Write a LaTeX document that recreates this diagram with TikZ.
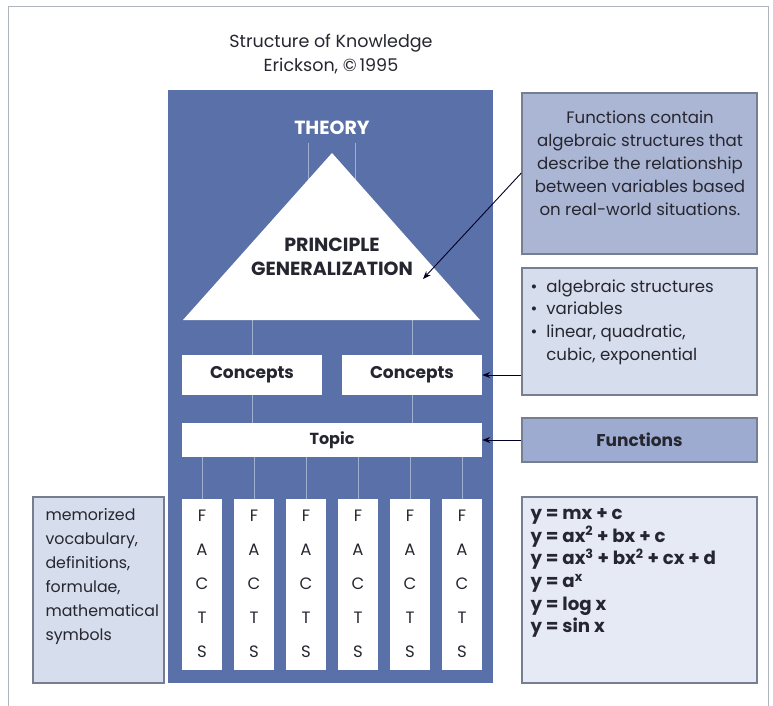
\documentclass[tikz,border=0pt]{standalone}
\usepackage{fontspec}
\setmainfont{Poppins}
\usetikzlibrary{arrows.meta}

\definecolor{panelblue}{RGB}{90,112,168}
\definecolor{panelline}{RGB}{160,174,208}
\definecolor{notedark}{RGB}{170,182,212}
\definecolor{notemid}{RGB}{156,171,207}
\definecolor{notelight}{RGB}{214,221,236}
\definecolor{notepale}{RGB}{230,234,245}
\definecolor{noteedge}{RGB}{118,126,146}
\definecolor{frameedge}{RGB}{175,180,190}
\definecolor{ink}{RGB}{38,38,48}

\tikzset{
  whitebox/.style={fill=white, draw=none, inner sep=0pt, text=ink},
  notebox/.style={draw=noteedge, line width=1.4pt, inner sep=0pt},
  thinline/.style={draw=panelline, line width=0.8pt},
  pointer/.style={draw=black!85!blue, line width=0.9pt, -{Stealth[length=8pt,width=6pt]}},
  bodytext/.style={font=\fontsize{16.6}{23}\selectfont, text=ink},
  labeltext/.style={font=\fontsize{17}{18}\selectfont\bfseries, text=ink},
}

\begin{document}
\begin{tikzpicture}[x=1pt, y=-1pt]
  \useasboundingbox (0,0) rectangle (773,705);
  % outer frame
  \draw[frameedge, line width=1pt] (8,720) |- (768,6) -- (768,720);

  % title
  \node[text=ink, align=center, font=\fontsize{17.5}{24}\selectfont] (title) at (331,54)
    {Structure of Knowledge\\Erickson, \textcopyright\,1995};

  % blue panel
  \path[fill=panelblue] (168,90) rectangle (493,683);

  % theory label and its two stems
  \node[text=white, font=\fontsize{19}{20}\selectfont\bfseries] (theory) at (332,128) {THEORY};
  \coordinate (stemL) at (308,143);
  \coordinate (stemR) at (355,143);
  \draw[thinline] (stemL) -- (308,185);
  \draw[thinline] (stemR) -- (355,185);

  % stems from the triangle down to the concepts and the topic
  \coordinate (legL) at (252,315);
  \coordinate (legR) at (412,315);
  \draw[thinline] (legL) -- (252,430);
  \draw[thinline] (legR) -- (412,430);

  % triangle
  \coordinate (apex) at (332,153);
  \coordinate (baseL) at (183,320);
  \coordinate (baseR) at (480,320);
  \fill[white] (apex) -- (baseR) -- (baseL) -- cycle;
  \node[align=center, text=ink, font=\fontsize{19}{24}\selectfont\bfseries] (principle) at (332,257)
    {PRINCIPLE\\GENERALIZATION};

  % concepts and topic
  \node[whitebox, labeltext, minimum width=140pt, minimum height=40pt] (c1) at (252,375) {Concepts};
  \node[whitebox, labeltext, minimum width=140pt, minimum height=40pt] (c2) at (412,375) {Concepts};
  \node[whitebox, minimum width=300pt, minimum height=34pt, font=\fontsize{16}{18}\selectfont\bfseries] (topic) at (332,440) {Topic};

  % facts columns
  \foreach \i in {0,...,5} {
    \pgfmathsetmacro{\cx}{202+52*\i}
    \draw[thinline] (\cx,457) -- (\cx,500);
    \node[whitebox, minimum width=40pt, minimum height=171pt, align=center,
          font=\fontsize{16.5}{34}\selectfont] (f\i) at (\cx,584) {F\\A\\C\\T\\S};
  }

  % left note
  \node[notebox, fill=notelight, minimum width=131pt, minimum height=186pt] (memo) at (98.5,590) {};
  \node[bodytext, anchor=west, align=left, font=\fontsize{15.8}{24}\selectfont] (memotext) at (42,577)
    {memorized\\vocabulary,\\definitions,\\formulae,\\mathematical\\symbols};

  % right notes
  \node[notebox, fill=notedark, minimum width=235pt, minimum height=161pt] (n1) at (639.5,173.5) {};
  \node[bodytext, align=center] (n1text) at (640,163)
    {Functions contain\\algebraic structures that\\describe the relationship\\between variables based\\on real-world situations.};

  \node[notebox, fill=notelight, minimum width=235pt, minimum height=127pt] (n2) at (639.5,331.5) {};
  \node[bodytext, anchor=west, align=left, font=\fontsize{16.6}{22.7}\selectfont] (n2text) at (527,322)
    {\textbullet\hspace{9pt}algebraic structures\\\textbullet\hspace{9pt}variables\\\textbullet\hspace{9pt}linear, quadratic,\\\phantom{\textbullet}\hspace{9pt}cubic, exponential};

  \node[notebox, fill=notemid, labeltext, minimum width=235pt, minimum height=44pt] (n3) at (639.5,440) {Functions};

  \node[notebox, fill=notepale, minimum width=235pt, minimum height=186pt] (n4) at (639.5,590) {};
  \node[bodytext, anchor=west, align=left, font=\fontsize{18.2}{22.6}\selectfont\bfseries] (n4text) at (527,573)
    {y = mx + c\\
     y = ax\textsuperscript{2} + bx + c\\
     y = ax\textsuperscript{3} + bx\textsuperscript{2} + cx + d\\
     y = a\textsuperscript{x}\\
     y = log x\\
     y = sin x};

  % pointers
  \coordinate (target) at (423,279);
  \draw[pointer] (n1.west |- 0,173) -- (target);
  \draw[pointer] (n2.west |- c2.east) -- (c2.east);
  \draw[pointer] (n3.west) -- (topic.east);
\end{tikzpicture}
\end{document}
